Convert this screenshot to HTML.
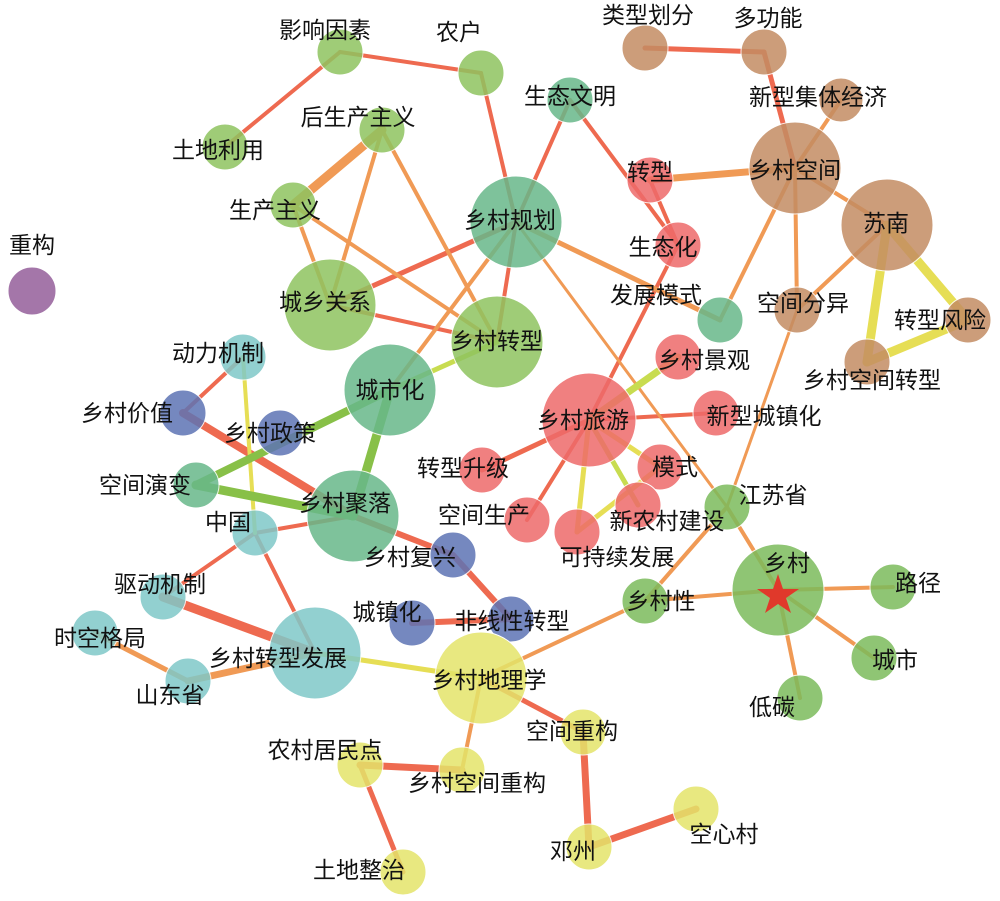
<!DOCTYPE html>
<html><head><meta charset="utf-8"><style>
html,body{margin:0;padding:0;background:#fff;}
svg{display:block;}
text{font-family:"Liberation Sans","Noto Sans CJK SC","WenQuanYi Zen Hei",sans-serif;font-size:23px;fill:#111;text-anchor:middle;dominant-baseline:central;}
</style></head><body>
<svg width="1000" height="901" viewBox="0 0 1000 901" xmlns="http://www.w3.org/2000/svg">
<g stroke-linecap="round" fill="none">
<!-- red-orange edges -->
<g stroke="#ee6a50">
<line x1="645" y1="48" x2="764" y2="52" stroke-width="5"/>
<line x1="764" y1="52" x2="795" y2="168" stroke-width="5"/>
<line x1="340" y1="52" x2="481" y2="73" stroke-width="4"/>
<line x1="340" y1="52" x2="225" y2="147" stroke-width="4"/>
<line x1="481" y1="73" x2="516" y2="222" stroke-width="4"/>
<line x1="570" y1="100" x2="516" y2="222" stroke-width="4"/>
<line x1="570" y1="100" x2="678" y2="245" stroke-width="4"/>
<line x1="650" y1="180" x2="678" y2="245" stroke-width="4"/>
<line x1="678" y1="245" x2="589" y2="420" stroke-width="4"/>
<line x1="516" y1="222" x2="497" y2="342" stroke-width="4"/>
<line x1="330" y1="305" x2="516" y2="222" stroke-width="5"/>
<line x1="330" y1="305" x2="497" y2="342" stroke-width="4"/>
<line x1="243" y1="357" x2="183" y2="413" stroke-width="4"/>
<line x1="183" y1="413" x2="353" y2="516" stroke-width="8"/>
<line x1="353" y1="516" x2="453" y2="555" stroke-width="6"/>
<line x1="453" y1="555" x2="511" y2="619" stroke-width="6"/>
<line x1="255" y1="533" x2="353" y2="516" stroke-width="4"/>
<line x1="255" y1="533" x2="163" y2="597" stroke-width="4"/>
<line x1="255" y1="533" x2="315" y2="653" stroke-width="4"/>
<line x1="163" y1="597" x2="315" y2="653" stroke-width="9"/>
<line x1="589" y1="420" x2="482" y2="470" stroke-width="5"/>
<line x1="589" y1="420" x2="716" y2="413" stroke-width="4"/>
<line x1="589" y1="420" x2="527" y2="520" stroke-width="4"/>
<line x1="481" y1="678" x2="583" y2="732" stroke-width="5"/>
<line x1="360" y1="765" x2="462" y2="770" stroke-width="7"/>
<line x1="360" y1="765" x2="403" y2="872" stroke-width="5"/>
<line x1="583" y1="732" x2="589" y2="847" stroke-width="7"/>
<line x1="589" y1="847" x2="696" y2="809" stroke-width="7"/>
<line x1="412" y1="623" x2="511" y2="619" stroke-width="6"/>
</g>
<!-- orange edges -->
<g stroke="#f09a55">
<line x1="841" y1="100" x2="795" y2="168" stroke-width="4"/>
<line x1="293" y1="205" x2="382" y2="130" stroke-width="9"/>
<line x1="382" y1="130" x2="330" y2="305" stroke-width="4"/>
<line x1="382" y1="130" x2="497" y2="342" stroke-width="4"/>
<line x1="293" y1="205" x2="330" y2="305" stroke-width="4"/>
<line x1="293" y1="205" x2="497" y2="342" stroke-width="4"/>
<line x1="516" y1="222" x2="720" y2="320" stroke-width="5"/>
<line x1="516" y1="222" x2="727" y2="507" stroke-width="3"/>
<line x1="516" y1="222" x2="390" y2="390" stroke-width="4"/>
<line x1="650" y1="180" x2="795" y2="168" stroke-width="7"/>
<line x1="795" y1="168" x2="887" y2="225" stroke-width="4"/>
<line x1="795" y1="168" x2="720" y2="320" stroke-width="4"/>
<line x1="795" y1="168" x2="797" y2="310" stroke-width="4"/>
<line x1="887" y1="225" x2="797" y2="310" stroke-width="4"/>
<line x1="797" y1="310" x2="727" y2="507" stroke-width="3"/>
<line x1="95" y1="633" x2="188" y2="681" stroke-width="5"/>
<line x1="188" y1="681" x2="315" y2="653" stroke-width="7"/>
<line x1="727" y1="507" x2="778" y2="590" stroke-width="4"/>
<line x1="727" y1="507" x2="645" y2="601" stroke-width="4"/>
<line x1="645" y1="601" x2="481" y2="678" stroke-width="4"/>
<line x1="645" y1="601" x2="778" y2="590" stroke-width="4"/>
<line x1="778" y1="590" x2="893" y2="587" stroke-width="4"/>
<line x1="778" y1="590" x2="874" y2="658" stroke-width="4"/>
<line x1="778" y1="590" x2="800" y2="698" stroke-width="4"/>
<line x1="481" y1="678" x2="462" y2="770" stroke-width="4"/>
</g>
<!-- yellow edges -->
<g stroke="#e6de55">
<line x1="887" y1="225" x2="968" y2="320" stroke-width="9"/>
<line x1="887" y1="225" x2="867" y2="362" stroke-width="9"/>
<line x1="968" y1="320" x2="867" y2="362" stroke-width="9"/>
<line x1="243" y1="357" x2="255" y2="533" stroke-width="4"/>
<line x1="315" y1="653" x2="481" y2="678" stroke-width="5"/>
<line x1="589" y1="420" x2="660" y2="467" stroke-width="5"/>
<line x1="589" y1="420" x2="577" y2="532" stroke-width="5"/>
<line x1="577" y1="532" x2="660" y2="467" stroke-width="5"/>
</g>
<g stroke="#c8dc50">
<line x1="589" y1="420" x2="678" y2="357" stroke-width="7"/>
<line x1="589" y1="420" x2="638" y2="505" stroke-width="5"/>
<line x1="497" y1="342" x2="390" y2="390" stroke-width="5"/>
</g>
<!-- green edges -->
<g stroke="#88c048">
<line x1="196" y1="485" x2="390" y2="390" stroke-width="8"/>
<line x1="196" y1="485" x2="353" y2="516" stroke-width="9"/>
<line x1="390" y1="390" x2="353" y2="516" stroke-width="9"/>
</g>
</g>
<g opacity="0.85" stroke="#fff" stroke-width="1">
<circle cx="645" cy="48" r="23" fill="#c48d63"/>
<circle cx="764" cy="52" r="23" fill="#c48d63"/>
<circle cx="841" cy="100" r="22" fill="#c48d63"/>
<circle cx="795" cy="168" r="46" fill="#c48d63"/>
<circle cx="887" cy="225" r="46" fill="#c48d63"/>
<circle cx="797" cy="310" r="23" fill="#c48d63"/>
<circle cx="968" cy="320" r="23" fill="#c48d63"/>
<circle cx="867" cy="362" r="23" fill="#c48d63"/>
<circle cx="340" cy="52" r="23" fill="#8fc460"/>
<circle cx="481" cy="73" r="23" fill="#8fc460"/>
<circle cx="382" cy="130" r="23" fill="#8fc460"/>
<circle cx="225" cy="147" r="23" fill="#8fc460"/>
<circle cx="293" cy="205" r="23" fill="#8fc460"/>
<circle cx="330" cy="305" r="46" fill="#8fc460"/>
<circle cx="497" cy="342" r="46" fill="#8fc460"/>
<circle cx="570" cy="100" r="23" fill="#68b88a"/>
<circle cx="516" cy="222" r="46" fill="#68b88a"/>
<circle cx="720" cy="320" r="23" fill="#68b88a"/>
<circle cx="390" cy="390" r="46" fill="#68b88a"/>
<circle cx="196" cy="485" r="23" fill="#68b88a"/>
<circle cx="353" cy="516" r="46" fill="#68b88a"/>
<circle cx="650" cy="180" r="23" fill="#ee6a6a"/>
<circle cx="678" cy="245" r="23" fill="#ee6a6a"/>
<circle cx="678" cy="357" r="23" fill="#ee6a6a"/>
<circle cx="716" cy="413" r="23" fill="#ee6a6a"/>
<circle cx="589" cy="420" r="47" fill="#ee6a6a"/>
<circle cx="660" cy="467" r="23" fill="#ee6a6a"/>
<circle cx="482" cy="470" r="23" fill="#ee6a6a"/>
<circle cx="527" cy="520" r="23" fill="#ee6a6a"/>
<circle cx="577" cy="532" r="23" fill="#ee6a6a"/>
<circle cx="638" cy="505" r="23" fill="#ee6a6a"/>
<circle cx="727" cy="507" r="23" fill="#7cbc5c"/>
<circle cx="778" cy="590" r="46" fill="#7cbc5c"/>
<circle cx="893" cy="587" r="23" fill="#7cbc5c"/>
<circle cx="874" cy="658" r="23" fill="#7cbc5c"/>
<circle cx="800" cy="698" r="23" fill="#7cbc5c"/>
<circle cx="645" cy="601" r="23" fill="#7cbc5c"/>
<circle cx="32" cy="291" r="24" fill="#955f9b"/>
<circle cx="243" cy="357" r="23" fill="#80c8c8"/>
<circle cx="255" cy="533" r="23" fill="#80c8c8"/>
<circle cx="163" cy="597" r="23" fill="#80c8c8"/>
<circle cx="95" cy="633" r="23" fill="#80c8c8"/>
<circle cx="188" cy="681" r="23" fill="#80c8c8"/>
<circle cx="315" cy="653" r="46" fill="#80c8c8"/>
<circle cx="183" cy="413" r="23" fill="#5e74b4"/>
<circle cx="280" cy="433" r="23" fill="#5e74b4"/>
<circle cx="453" cy="555" r="23" fill="#5e74b4"/>
<circle cx="412" cy="623" r="23" fill="#5e74b4"/>
<circle cx="511" cy="619" r="23" fill="#5e74b4"/>
<circle cx="481" cy="678" r="46" fill="#e4e46a"/>
<circle cx="583" cy="732" r="23" fill="#e4e46a"/>
<circle cx="360" cy="765" r="23" fill="#e4e46a"/>
<circle cx="462" cy="770" r="23" fill="#e4e46a"/>
<circle cx="589" cy="847" r="23" fill="#e4e46a"/>
<circle cx="696" cy="809" r="23" fill="#e4e46a"/>
<circle cx="403" cy="872" r="23" fill="#e4e46a"/>
</g>
<polygon points="778,574 783,589 799,589 786,598 791,613 778,604 765,613 770,598 757,589 773,589" fill="#e0392b"/>
<g>
<text x="648" y="15">类型划分</text>
<text x="768" y="18">多功能</text>
<text x="818" y="97">新型集体经济</text>
<text x="795" y="170">乡村空间</text>
<text x="886" y="223">苏南</text>
<text x="803" y="303">空间分异</text>
<text x="940" y="320">转型风险</text>
<text x="872" y="380">乡村空间转型</text>
<text x="325" y="30">影响因素</text>
<text x="459" y="32">农户</text>
<text x="358" y="117">后生产主义</text>
<text x="218" y="150">土地利用</text>
<text x="275" y="210">生产主义</text>
<text x="325" y="302">城乡关系</text>
<text x="497" y="341">乡村转型</text>
<text x="570" y="96">生态文明</text>
<text x="510" y="220">乡村规划</text>
<text x="650" y="172">转型</text>
<text x="663" y="247">生态化</text>
<text x="656" y="295">发展模式</text>
<text x="704" y="360">乡村景观</text>
<text x="764" y="416">新型城镇化</text>
<text x="583" y="420">乡村旅游</text>
<text x="675" y="467">模式</text>
<text x="463" y="468">转型升级</text>
<text x="484" y="515">空间生产</text>
<text x="617" y="557">可持续发展</text>
<text x="667" y="521">新农村建设</text>
<text x="773" y="495">江苏省</text>
<text x="787" y="563">乡村</text>
<text x="918" y="583">路径</text>
<text x="895" y="660">城市</text>
<text x="772" y="707">低碳</text>
<text x="661" y="601">乡村性</text>
<text x="32" y="245">重构</text>
<text x="218" y="353">动力机制</text>
<text x="390" y="390">城市化</text>
<text x="127" y="413">乡村价值</text>
<text x="270" y="433">乡村政策</text>
<text x="145" y="485">空间演变</text>
<text x="345" y="503">乡村聚落</text>
<text x="228" y="522">中国</text>
<text x="410" y="557">乡村复兴</text>
<text x="160" y="584">驱动机制</text>
<text x="387" y="612">城镇化</text>
<text x="512" y="621">非线性转型</text>
<text x="100" y="638">时空格局</text>
<text x="278" y="658">乡村转型发展</text>
<text x="170" y="695">山东省</text>
<text x="489" y="680">乡村地理学</text>
<text x="572" y="731">空间重构</text>
<text x="325" y="750">农村居民点</text>
<text x="477" y="783">乡村空间重构</text>
<text x="573" y="851">邓州</text>
<text x="724" y="834">空心村</text>
<text x="359" y="870">土地整治</text>
</g>
</svg>
</body></html>
